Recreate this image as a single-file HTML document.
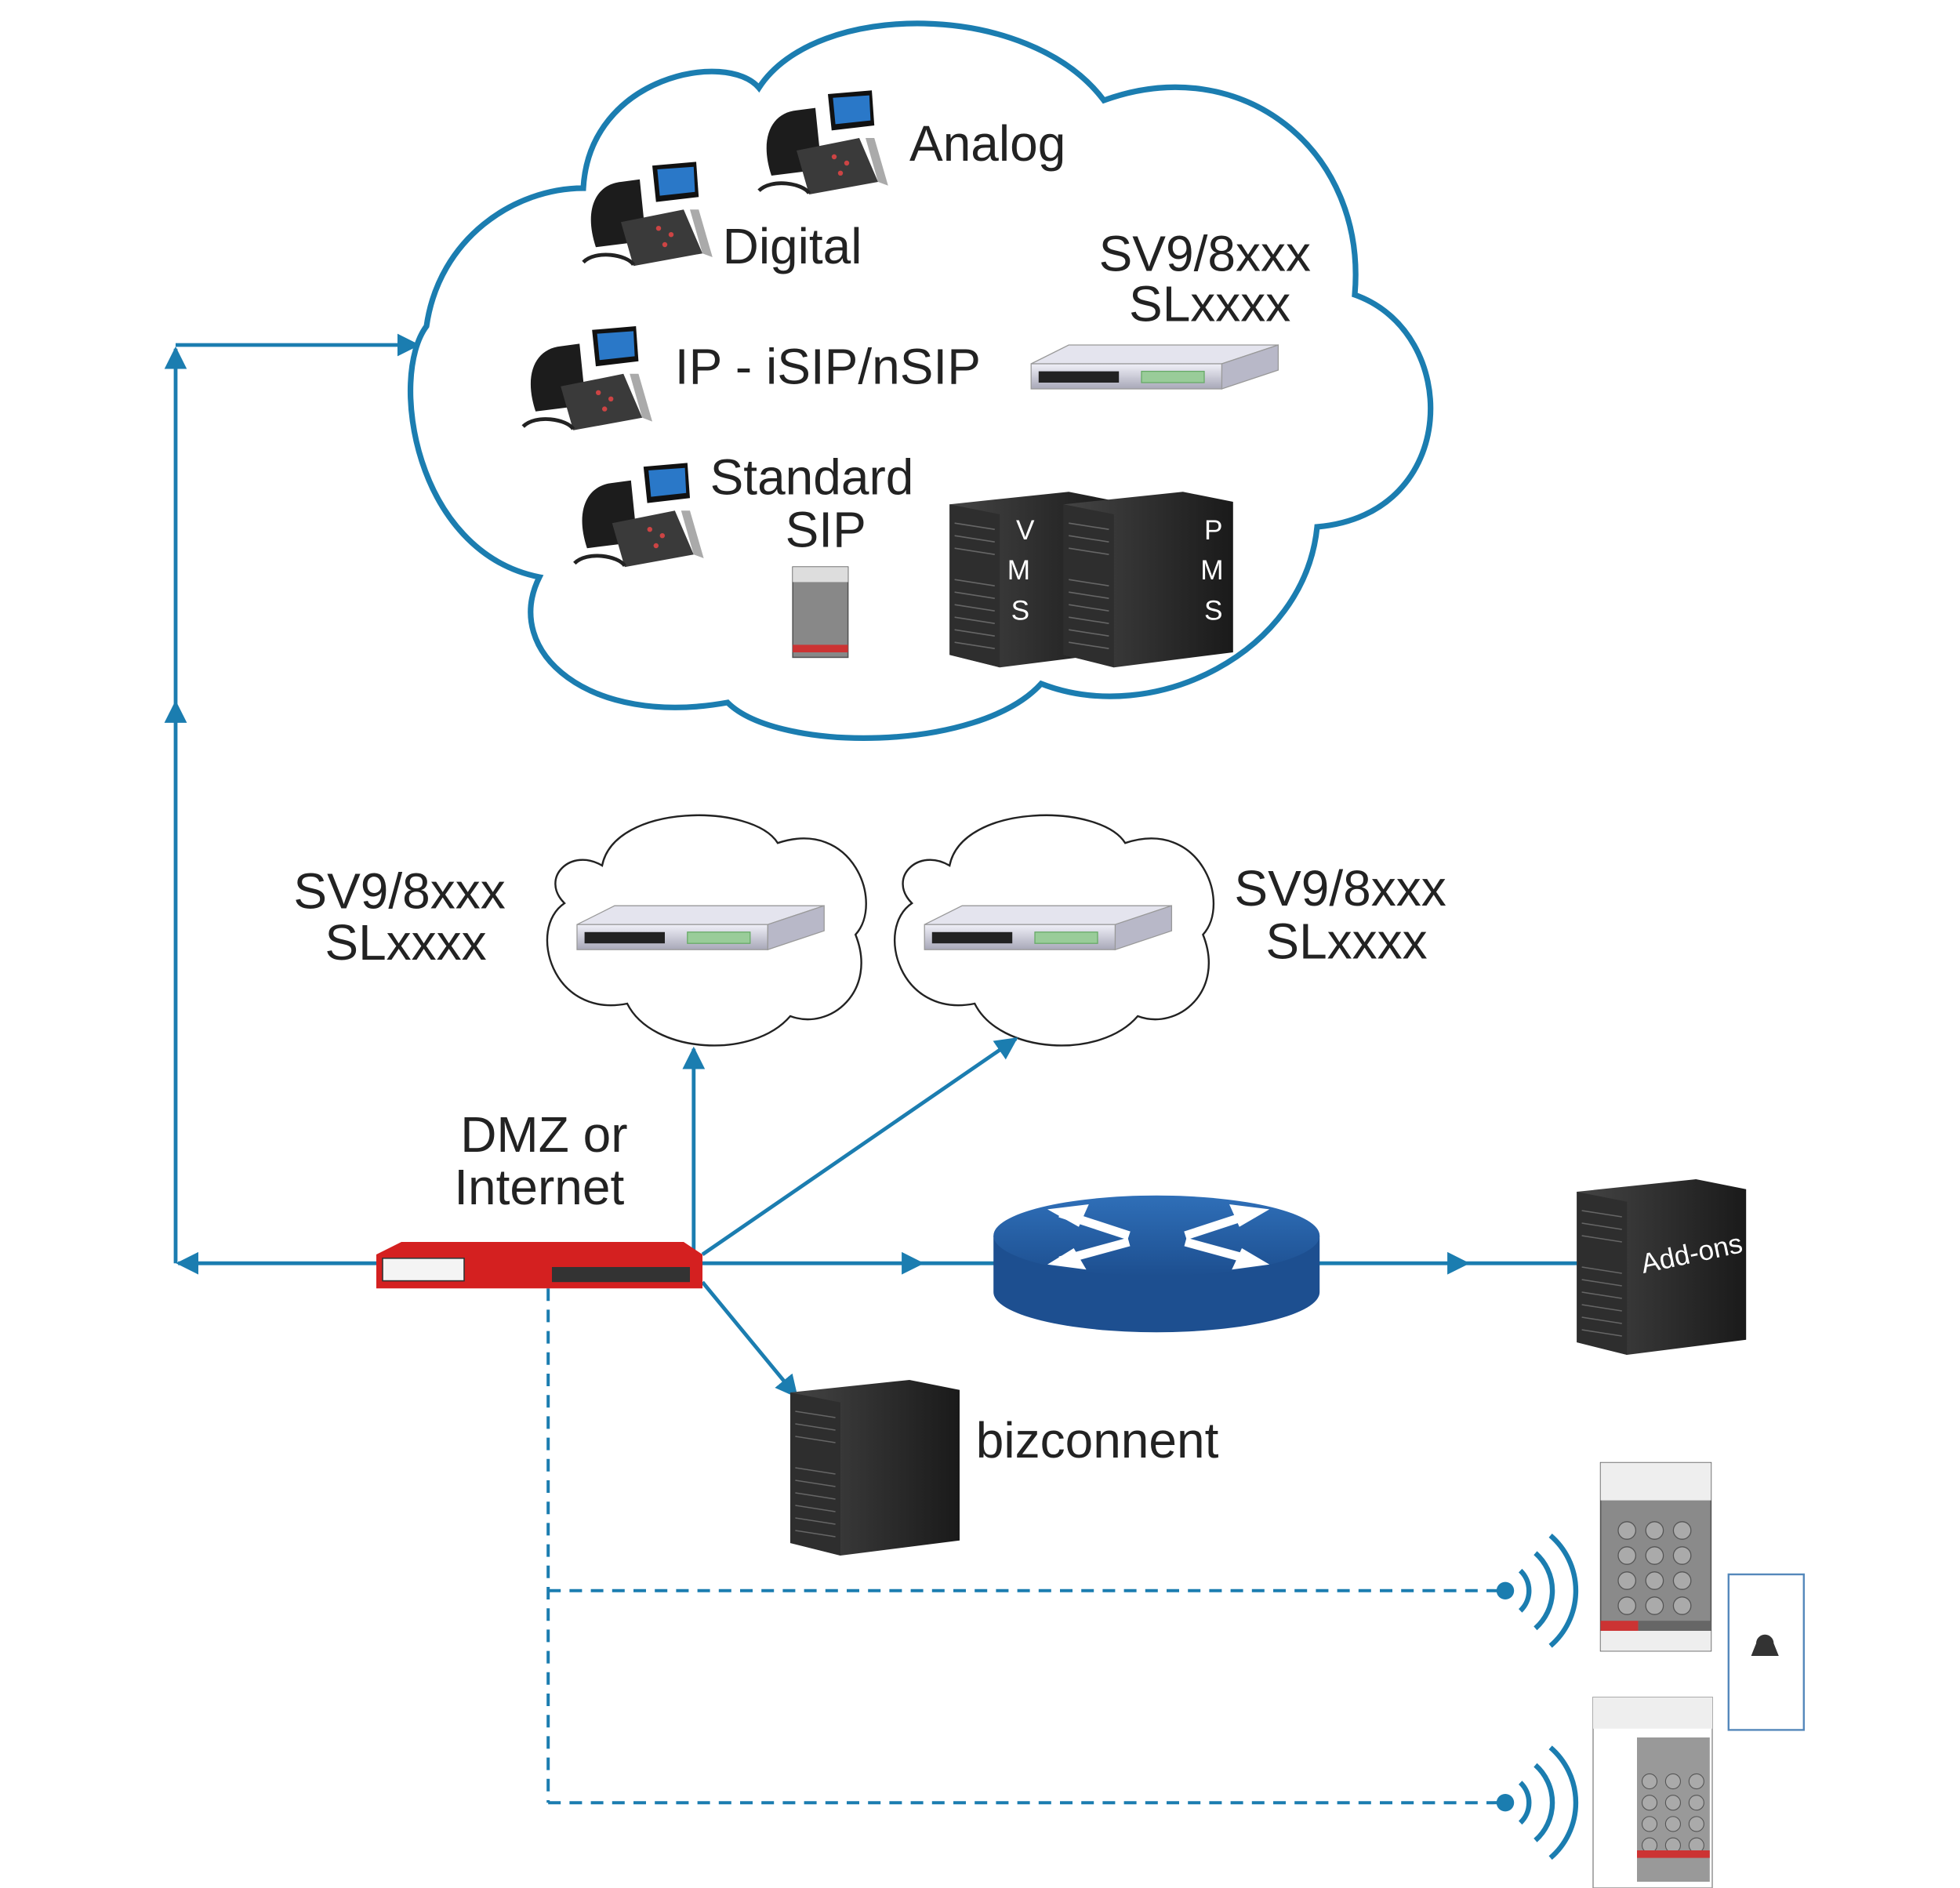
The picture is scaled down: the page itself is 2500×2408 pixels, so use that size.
<!DOCTYPE html>
<html><head><meta charset="utf-8"><style>
html,body{margin:0;padding:0;background:#fff}
svg{display:block}
text{font-family:"Liberation Sans",sans-serif;fill:#222}
</style></head><body>
<svg width="2500" height="2408" viewBox="0 0 1562.5 1505" xmlns="http://www.w3.org/2000/svg">
<defs>
<marker id="ah" viewBox="0 0 10 10" refX="9" refY="5" markerWidth="6" markerHeight="6" orient="auto-start-reverse"><path d="M0,0 L10,5 L0,10 Z" fill="#1b7db0"/></marker>
<linearGradient id="sw" x1="0" y1="0" x2="0" y2="1"><stop offset="0" stop-color="#f0f0f8"/><stop offset="1" stop-color="#a8a8b8"/></linearGradient>
<linearGradient id="srv" x1="0" y1="0" x2="1" y2="0"><stop offset="0" stop-color="#444"/><stop offset="1" stop-color="#1a1a1a"/></linearGradient>
<linearGradient id="rt" x1="0" y1="0" x2="0" y2="1"><stop offset="0" stop-color="#2f6fb8"/><stop offset="1" stop-color="#1d4f90"/></linearGradient>
<g id="switch">
<polygon points="0,15 30,0 197,0 152,15" fill="#e4e4ee" stroke="#999" stroke-width="0.8"/>
<polygon points="152,15 197,0 197,20 152,35" fill="#b8b8c8" stroke="#999" stroke-width="0.8"/>
<rect x="0" y="15" width="152" height="20" fill="url(#sw)" stroke="#999" stroke-width="0.8"/>
<rect x="6" y="21" width="64" height="9" fill="#222"/>
<rect x="88" y="21" width="50" height="9" fill="#9c9" stroke="#6a6" stroke-width="0.8"/>
</g>
<g id="phone">
<path d="M10,70 C0,40 10,20 30,18 L45,16 L50,65 Z" fill="#1c1c1c"/>
<polygon points="30,50 80,40 95,75 40,85" fill="#3a3a3a"/>
<polygon points="55,5 90,2 92,30 58,34" fill="#111"/>
<polygon points="59,8 88,6 89,26 61,29" fill="#2a78c8"/>
<polygon points="85,40 95,75 103,78 92,40" fill="#aaa"/>
<circle cx="60" cy="55" r="2" fill="#c44"/><circle cx="70" cy="60" r="2" fill="#c44"/><circle cx="65" cy="68" r="2" fill="#c44"/>
<path d="M0,82 C10,72 35,76 40,84" stroke="#222" stroke-width="3" fill="none"/>
</g>
<g id="server">
<polygon points="0,10 95,0 135,8 135,128 40,140 0,130" fill="url(#srv)"/>
<polygon points="0,10 40,18 40,140 0,130" fill="#2e2e2e"/>
<g stroke="#666" stroke-width="1"><line x1="4" y1="25" x2="36" y2="30"/><line x1="4" y1="35" x2="36" y2="40"/><line x1="4" y1="45" x2="36" y2="50"/><line x1="4" y1="70" x2="36" y2="75"/><line x1="4" y1="80" x2="36" y2="85"/><line x1="4" y1="90" x2="36" y2="95"/><line x1="4" y1="100" x2="36" y2="105"/><line x1="4" y1="110" x2="36" y2="115"/><line x1="4" y1="120" x2="36" y2="125"/></g>
</g>
<g id="keys" fill="#aaa" stroke="#555" stroke-width="0.8">
<circle cx="0" cy="0" r="7"/><circle cx="22" cy="0" r="7"/><circle cx="44" cy="0" r="7"/>
<circle cx="0" cy="20" r="7"/><circle cx="22" cy="20" r="7"/><circle cx="44" cy="20" r="7"/>
<circle cx="0" cy="40" r="7"/><circle cx="22" cy="40" r="7"/><circle cx="44" cy="40" r="7"/>
<circle cx="0" cy="60" r="7"/><circle cx="22" cy="60" r="7"/><circle cx="44" cy="60" r="7"/>
</g>
</defs>

<path d="M465,150 C470,60 580,40 605,70 C650,0 820,0 880,80 C990,40 1090,120 1080,235 C1165,265 1165,410 1050,420 C1040,520 920,580 830,545 C780,600 620,600 580,560 C470,580 400,520 430,460 C330,440 310,300 340,260 C350,190 410,150 465,150 Z" fill="#fff" stroke="#1b7db0" stroke-width="4.5"/>

<path id="sc" d="M480,690 C490,640 600,640 620,672 C680,652 705,720 682,745 C700,790 662,822 630,810 C600,845 520,840 500,800 C440,812 420,740 450,720 C430,700 455,675 480,690 Z" fill="#fff" stroke="#222" stroke-width="1.5"/>
<use href="#sc" transform="translate(277,0)"/>

<g stroke="#1b7db0" stroke-width="3" fill="none">
<line x1="140" y1="1007" x2="140" y2="560" marker-end="url(#ah)"/>
<line x1="140" y1="560" x2="140" y2="278" marker-end="url(#ah)"/>
<line x1="140" y1="275" x2="333" y2="275" marker-end="url(#ah)"/>
<line x1="300" y1="1007" x2="142" y2="1007" marker-end="url(#ah)"/>
<line x1="560" y1="1007" x2="735" y2="1007" marker-end="url(#ah)"/>
<line x1="735" y1="1007" x2="795" y2="1007"/>
<line x1="1050" y1="1007" x2="1170" y2="1007" marker-end="url(#ah)"/>
<line x1="1170" y1="1007" x2="1257" y2="1007"/>
<line x1="553" y1="1000" x2="553" y2="836" marker-end="url(#ah)"/>
<line x1="560" y1="1000" x2="810" y2="828" marker-end="url(#ah)"/>
<line x1="560" y1="1022" x2="635" y2="1113" marker-end="url(#ah)"/>
<g stroke-dasharray="10,7" stroke-width="2.5">
<line x1="437" y1="1027" x2="437" y2="1437"/>
<line x1="437" y1="1268" x2="1195" y2="1268"/>
<line x1="437" y1="1437" x2="1195" y2="1437"/>
</g>
<path d="M1212,1252 A22,22 0 0 1 1212,1284 M1224,1238 A40,40 0 0 1 1224,1298 M1236,1224 A58,58 0 0 1 1236,1312" stroke-width="4"/>
<path d="M1212,1421 A22,22 0 0 1 1212,1453 M1224,1407 A40,40 0 0 1 1224,1467 M1236,1393 A58,58 0 0 1 1236,1481" stroke-width="4"/>
</g>
<circle cx="1200" cy="1268" r="7" fill="#1b7db0"/>
<circle cx="1200" cy="1437" r="7" fill="#1b7db0"/>

<use href="#phone" transform="translate(605,70)"/>
<use href="#phone" transform="translate(465,127)"/>
<use href="#phone" transform="translate(417,258)"/>
<use href="#phone" transform="translate(458,367)"/>
<rect x="632" y="452" width="44" height="72" fill="#888" stroke="#555"/>
<rect x="632" y="452" width="44" height="12" fill="#ddd"/>
<rect x="632" y="514" width="44" height="6" fill="#c33"/>

<use href="#switch" transform="translate(822,275)"/>
<use href="#switch" transform="translate(460,722)"/>
<use href="#switch" transform="translate(737,722)"/>

<use href="#server" transform="translate(757,392)"/>
<use href="#server" transform="translate(848,392)"/>
<text x="810" y="430" font-size="22" style="fill:#fff">V</text>
<text x="803" y="462" font-size="22" style="fill:#fff">M</text>
<text x="806" y="494" font-size="22" style="fill:#fff">S</text>
<text x="960" y="430" font-size="22" style="fill:#fff">P</text>
<text x="957" y="462" font-size="22" style="fill:#fff">M</text>
<text x="960" y="494" font-size="22" style="fill:#fff">S</text>

<polygon points="300,1000 320,990 545,990 560,1000 560,1027 300,1027" fill="#d42020"/>
<rect x="305" y="1003" width="65" height="18" fill="#f4f4f4" stroke="#333"/>
<rect x="440" y="1010" width="110" height="12" fill="#333"/>

<path d="M792,985 L792,1030 A130,32 0 0 0 1052,1030 L1052,985 Z" fill="#1d4f90"/>
<ellipse cx="922" cy="985" rx="130" ry="32" fill="url(#rt)"/>
<g stroke="#fff" stroke-width="7" fill="none">
<line x1="845" y1="967" x2="900" y2="985"/>
<line x1="1000" y1="967" x2="945" y2="985"/>
<line x1="900" y1="990" x2="845" y2="1005"/>
<line x1="945" y1="990" x2="1000" y2="1005"/>
</g>
<g fill="#fff">
<polygon points="835,964 868,960 860,978"/>
<polygon points="1012,964 980,960 988,978"/>
<polygon points="835,1008 866,1012 856,995"/>
<polygon points="1012,1008 982,1012 990,995"/>
</g>

<use href="#server" transform="translate(1257,940)"/>
<text x="1310" y="1015" font-size="22" transform="rotate(-12 1310 1015)" style="fill:#fff">Add-ons</text>
<use href="#server" transform="translate(630,1100)"/>

<rect x="1276" y="1166" width="88" height="150" fill="#8a8a8a" stroke="#555"/>
<rect x="1276" y="1166" width="88" height="30" fill="#eee"/>
<use href="#keys" transform="translate(1297,1220)"/>
<rect x="1276" y="1292" width="30" height="8" fill="#c33"/>
<rect x="1306" y="1292" width="58" height="8" fill="#666"/>
<rect x="1276" y="1300" width="88" height="16" fill="#eee"/>
<rect x="1378" y="1255" width="60" height="124" fill="#fff" stroke="#5588bb" stroke-width="1.5"/>
<path d="M1400,1310 a7,7 0 1 1 14,0 l4,10 h-22 z" fill="#333"/>
<rect x="1270" y="1353" width="95" height="152" fill="#fff" stroke="#999"/>
<rect x="1270" y="1353" width="95" height="25" fill="#eee"/>
<rect x="1305" y="1385" width="58" height="115" fill="#999"/>
<use href="#keys" transform="translate(1315,1420) scale(0.85)"/>
<rect x="1305" y="1475" width="58" height="6" fill="#c33"/>

<g font-size="40">
<text x="725" y="128">Analog</text>
<text x="576" y="210">Digital</text>
<text x="876" y="216">SV9/8xxx</text>
<text x="900" y="256">SLxxxx</text>
<text x="538" y="306">IP - iSIP/nSIP</text>
<text x="566" y="394">Standard</text>
<text x="626" y="436">SIP</text>
<text x="234" y="724">SV9/8xxx</text>
<text x="259" y="765">SLxxxx</text>
<text x="984" y="722">SV9/8xxx</text>
<text x="1009" y="764">SLxxxx</text>
<text x="367" y="918">DMZ or</text>
<text x="362" y="960">Internet</text>
<text x="778" y="1162">bizconnent</text>
</g>
</svg>
</body></html>
